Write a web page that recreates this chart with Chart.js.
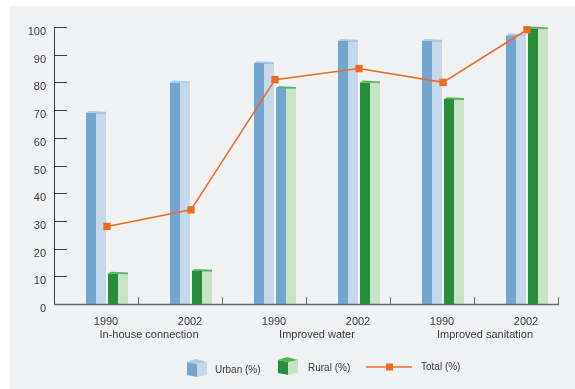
<!DOCTYPE html>
<html>
<head>
<meta charset="utf-8">
<script src="https://cdn.jsdelivr.net/npm/chart.js@4/dist/chart.umd.min.js"></script>
<style>
  html, body { margin: 0; padding: 0; background: #ffffff; }
  #wrap { position: relative; width: 575px; height: 389px; overflow: hidden; }
  #panel { position: absolute; left: 10px; top: 6px; right: 0; bottom: 0; background: #f1f2f4; }
  #chart { position: absolute; left: 0; top: 0; }
  .lg { position: absolute; font: 10px "Liberation Sans", Arial, sans-serif; color: #3a3a3a; white-space: nowrap; }
  .lg canvas { position: absolute; }
</style>
</head>
<body>
<div id="wrap">
  <div id="panel"></div>
  <canvas id="chart" width="575" height="389"></canvas>
  <div class="lg" style="left:187px; top:357px;"><canvas id="icoUrban" width="22" height="22"></canvas></div>
  <div class="lg" style="left:215px; top:364px;">Urban (%)</div>
  <div class="lg" style="left:278px; top:355px;"><canvas id="icoRural" width="22" height="22"></canvas></div>
  <div class="lg" style="left:308px; top:362px;">Rural (%)</div>
  <div class="lg" style="left:366px; top:362px;"><canvas id="icoTotal" width="48" height="10"></canvas></div>
  <div class="lg" style="left:421px; top:361px;">Total (%)</div>
</div>
<script>
// Survey years along the axis and the indicator each pair belongs to
const years = ['1990', '2002', '1990', '2002', '1990', '2002'];
const groups = ['In-house connection', 'Improved water', 'Improved sanitation'];

// Coverage values in percent
const urban = [69, 80, 87, 95, 95, 97];
const rural = [11, 12, 78, 80, 74, 99.5];
const total = [28, 34, 81, 85, 80, 99];

// y-axis tick labels
const yTicks = [0, 10, 20, 30, 40, 50, 60, 70, 80, 90, 100];

const FONT = '"Liberation Sans", Arial, sans-serif';
const TEXT = '#3a3a3a';

const URBAN = { dark: '#72a5cf', light: '#c5d9eb', cap: '#a9cae6' };
const RURAL = { dark: '#268f3a', light: '#c7e4c6', cap: '#55b35a' };
// the rural bar for improved water 1990 is printed with a blue front face
const ruralDark = rural.map((v, i) => i === 2 ? URBAN.dark : RURAL.dark);
const ORANGE = '#f26a22';

// Shades the right half and the top of each bar to give a boxed look
const boxShade = {
  id: 'boxShade',
  afterDatasetDraw(chart, args) {
    const ds = chart.data.datasets[args.index];
    if (!ds.shade) return;
    const ctx = chart.ctx;
    ctx.save();
    args.meta.data.forEach((bar, i) => {
      if (ds.data[i] == null) return;
      const p = bar.getProps(['x', 'y', 'base', 'width'], true);
      const left = p.x - p.width / 2, right = p.x + p.width / 2, mid = p.x;
      const top = p.y, bottom = p.base;
      ctx.fillStyle = ds.shade.light;
      ctx.fillRect(mid, top + 0.5, right - mid, bottom - top - 0.5);
      ctx.fillStyle = ds.shade.cap;
      ctx.beginPath();
      ctx.moveTo(left, top);
      ctx.lineTo(left + 3, top - 1.8);
      ctx.lineTo(right, top - 1);
      ctx.lineTo(right, top + 0.6);
      ctx.lineTo(mid, top + 0.2);
      ctx.closePath();
      ctx.fill();
    });
    ctx.restore();
  }
};

// The total line runs through the gap between each urban/rural pair
const lineInGap = {
  id: 'lineInGap',
  beforeDatasetDraw(chart, args) {
    if (chart.data.datasets[args.index].type !== 'line') return;
    const u = chart.getDatasetMeta(1).data[0];
    const r = chart.getDatasetMeta(2).data[0];
    const gapMid = ((u.x + u.width / 2) + (r.x - r.width / 2)) / 2;
    chart.ctx.save();
    chart.ctx.translate(gapMid - u.x, 0);
  },
  afterDatasetDraw(chart, args) {
    if (chart.data.datasets[args.index].type !== 'line') return;
    chart.ctx.restore();
  }
};

// Axis lines with inward tick marks
const axisMarks = {
  id: 'axisMarks',
  afterDatasetsDraw(chart) {
    const ctx = chart.ctx;
    const x = chart.scales.x, y = chart.scales.y;
    const y0 = y.getPixelForValue(0), y100 = y.getPixelForValue(100);
    ctx.save();
    ctx.strokeStyle = '#3c3c3c';
    ctx.lineWidth = 1;
    ctx.beginPath();
    ctx.moveTo(x.left + 0.5, y100);
    ctx.lineTo(x.left + 0.5, y0);
    y.ticks.forEach(t => {
      const py = Math.round(y.getPixelForValue(t.value)) + 0.5;
      ctx.moveTo(x.left, py);
      ctx.lineTo(x.left + 13, py);
    });
    ctx.stroke();
    ctx.strokeStyle = '#6a6a6a';
    ctx.lineWidth = 1.6;
    ctx.beginPath();
    ctx.moveTo(x.left, y0 + 0.5);
    ctx.lineTo(x.right + 1, y0 + 0.5);
    ctx.stroke();
    ctx.lineWidth = 1;
    ctx.beginPath();
    const n = years.length;
    for (let i = 1; i <= n; i++) {
      const px = Math.round(x.left + i * (x.right - x.left) / n) + 0.5;
      ctx.moveTo(px, y0);
      ctx.lineTo(px, y0 - 7);
    }
    ctx.stroke();
    ctx.restore();
  }
};

new Chart(document.getElementById('chart'), {
  type: 'bar',
  data: {
    labels: years,
    datasets: [
      { type: 'bar', label: '', stack: 's0', data: years.map(() => null), backgroundColor: 'rgba(0,0,0,0)', order: 2 },
      { type: 'bar', label: 'Urban (%)', stack: 's1', data: urban, backgroundColor: URBAN.dark, shade: URBAN, order: 2 },
      { type: 'bar', label: 'Rural (%)', stack: 's2', data: rural, backgroundColor: ruralDark, shade: RURAL, order: 2 },
      {
        type: 'line', label: 'Total (%)', data: total,
        borderColor: ORANGE, backgroundColor: ORANGE, borderWidth: 1.6,
        pointStyle: 'rect', pointRadius: 5.2, pointHoverRadius: 5.2,
        pointBorderWidth: 0, tension: 0, order: 0, clip: false
      }
    ]
  },
  options: {
    responsive: false,
    animation: false,
    events: [],
    layout: { padding: { left: 0, right: 17, top: 27, bottom: 47 } },
    datasets: { bar: { categoryPercentage: 66 / 84, barPercentage: 20 / 22, borderWidth: 0, grouped: true } },
    plugins: { legend: { display: false }, tooltip: { enabled: false } },
    scales: {
      x: {
        type: 'category', offset: true, weight: 0, stacked: false,
        grid: { display: false, drawTicks: false },
        border: { display: false },
        ticks: { color: TEXT, font: { family: FONT, size: 11 }, padding: 11, labelOffset: 10, maxRotation: 0, autoSkip: false },
        afterFit: s => { s.height = 24; }
      },
      xg: {
        type: 'category', labels: groups, offset: true, position: 'bottom', weight: 1,
        grid: { display: false, drawTicks: false },
        border: { display: false },
        ticks: { color: TEXT, font: { family: FONT, size: 11 }, padding: 0, labelOffset: 11, maxRotation: 0, autoSkip: false },
        afterFit: s => { s.height = 14; }
      },
      y: {
        min: 0, max: 100, stacked: false,
        afterBuildTicks: s => { s.ticks = yTicks.map(v => ({ value: v })); },
        grid: { display: false, drawTicks: false },
        border: { display: false },
        ticks: { color: TEXT, font: { family: FONT, size: 11 }, padding: 8, labelOffset: 5 },
        afterFit: s => { s.width = 54; }
      }
    }
  },
  plugins: [boxShade, lineInGap, axisMarks]
});

// Legend swatches
function cube(id, c) {
  const g = document.getElementById(id).getContext('2d');
  g.fillStyle = c.dark;
  g.beginPath(); g.moveTo(0, 5); g.lineTo(10, 7); g.lineTo(10, 20); g.lineTo(0, 18); g.closePath(); g.fill();
  g.fillStyle = c.light;
  g.beginPath(); g.moveTo(10, 7); g.lineTo(20, 5); g.lineTo(20, 18); g.lineTo(10, 20); g.closePath(); g.fill();
  g.fillStyle = c.cap;
  g.beginPath(); g.moveTo(0, 5); g.lineTo(9, 2); g.lineTo(20, 5); g.lineTo(10, 7); g.closePath(); g.fill();
}
cube('icoUrban', URBAN);
cube('icoRural', RURAL);
(function () {
  const g = document.getElementById('icoTotal').getContext('2d');
  g.strokeStyle = ORANGE; g.lineWidth = 1.6;
  g.beginPath(); g.moveTo(0, 5); g.lineTo(46, 5); g.stroke();
  g.fillStyle = ORANGE; g.fillRect(20, 1.5, 7, 7);
})();
</script>
</body>
</html>
